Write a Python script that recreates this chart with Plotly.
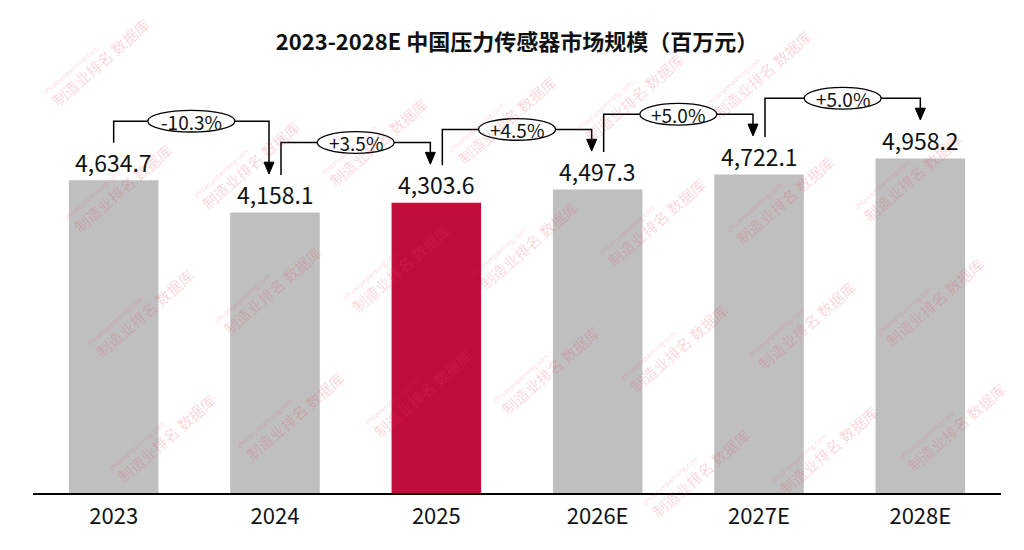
import math
import plotly.graph_objects as go

categories = ["2023", "2024", "2025", "2026E", "2027E", "2028E"]
values = [4634.7, 4158.1, 4303.6, 4497.3, 4722.1, 4958.2]
value_labels = ["4,634.7", "4,158.1", "4,303.6", "4,497.3", "4,722.1", "4,958.2"]
growth_labels = ["-10.3%", "+3.5%", "+4.5%", "+5.0%", "+5.0%"]
bar_colors = ["#BFBFBF", "#BFBFBF", "#C00D3E", "#BFBFBF", "#BFBFBF", "#BFBFBF"]

FONT = "Noto Sans CJK SC, Noto Sans, sans-serif"
BODY = 8                      # default page margin around the plot div
W, H = 1024 - 2 * BODY, 550 - 2 * BODY
ML, MR, MT, MB = 25, 15, 52, 43
plot_w = W - ML - MR
plot_h = H - MT - MB
YMAX = 6418
u = YMAX / plot_h              # data units per pixel (y)
cat_px = plot_w / len(categories)
px_x = 1.0 / cat_px            # category units per pixel (x)

fig = go.Figure()
fig.add_trace(go.Bar(
    x=list(range(len(categories))), y=values,
    marker=dict(color=bar_colors, line=dict(width=0)),
    width=0.555, hoverinfo="skip",
))

shapes = []
annotations = []

# faint watermark pattern (window pixel lattice), only whole instances
ang = -41.0
d = (math.cos(math.radians(ang)), math.sin(math.radians(ang)))
nrm = (-abs(d[1]), -abs(d[0]))
for k in range(-3, 10):
    for m in range(-2, 6):
        wx = 100 + 128 * k + 22 * m
        wy = 63 - 23 * k + 127 * m
        if not (62 < wx < 1024 - 62 and 58 < wy < 550 - 52):
            continue
        for (cx, cy, txt, sz) in [
            (wx, wy, "制造业排名 数据库", 15),
            (wx - 27 * d[0] + 14 * nrm[0], wy - 27 * d[1] + 14 * nrm[1], "zhizaoyepaiming.com", 7),
        ]:
            fx, fy = cx - BODY, cy - BODY
            annotations.append(dict(
                x=(fx - ML) / plot_w, y=1 - (fy - MT) / plot_h,
                xref="paper", yref="paper", text=txt, showarrow=False,
                textangle=ang, xanchor="center", yanchor="middle",
                font=dict(family=FONT, size=sz, color="rgba(225,70,80,0.22)"),
            ))

for i, (v, lab) in enumerate(zip(values, value_labels)):
    annotations.append(dict(
        x=i, y=v + 19 * u, xref="x", yref="y", text=lab, showarrow=False,
        yanchor="middle", font=dict(family=FONT, size=23, color="#111111"),
    ))

n = len(values)
dx = 6 * px_x
for i, g in enumerate(growth_labels):
    xs = i + (0 if i == 0 else dx)
    xe = (i + 1) - (0 if i + 1 == n - 1 else dx)
    ys = values[i] + 38 * u
    yt = values[i + 1] + 39 * u
    yh = max(ys, yt) + 22 * u
    yb = yt + 12 * u
    shapes.append(dict(
        type="path", xref="x", yref="y",
        path=f"M {xs},{ys} L {xs},{yh} L {xe},{yh} L {xe},{yb}",
        line=dict(color="black", width=1.5),
    ))
    hw = 5 * px_x
    shapes.append(dict(
        type="path", xref="x", yref="y",
        path=f"M {xe - hw},{yb} L {xe + hw},{yb} L {xe},{yt} Z",
        fillcolor="black", line=dict(color="black", width=1),
    ))
    xm = (xs + xe) / 2
    ew = (87 if len(g) > 5 else 77) * px_x
    eh = 22 * u
    shapes.append(dict(
        type="circle", xref="x", yref="y",
        x0=xm - ew / 2, x1=xm + ew / 2, y0=yh - eh / 2, y1=yh + eh / 2,
        fillcolor="white", line=dict(color="black", width=1.3),
    ))
    annotations.append(dict(
        x=xm, y=yh, xref="x", yref="y", text=g, showarrow=False,
        yanchor="middle", font=dict(family=FONT, size=19, color="#111111"),
    ))

fig.update_layout(
    width=W, height=H,
    margin=dict(l=ML, r=MR, t=MT, b=MB, pad=0),
    paper_bgcolor="white", plot_bgcolor="white",
    showlegend=False,
    title=dict(
        text="<b>2023-2028E 中国压力传感器市场规模（百万元）</b>",
        x=0.5, xref="paper", y=1 - (42 - BODY) / H, yref="container",
        xanchor="center", yanchor="middle",
        font=dict(family=FONT, size=22, color="#111111"),
    ),
    xaxis=dict(
        tickmode="array", tickvals=list(range(len(categories))), ticktext=categories,
        range=[-0.5, len(categories) - 0.5],
        showline=True, linecolor="black", linewidth=1.5,
        showgrid=False, zeroline=False, ticks="", ticklabelstandoff=3,
        tickfont=dict(family=FONT, size=22, color="#111111"),
    ),
    yaxis=dict(range=[0, YMAX], visible=False, showgrid=False, zeroline=False),
    shapes=shapes,
    annotations=annotations,
)

fig.write_html("out.html")
